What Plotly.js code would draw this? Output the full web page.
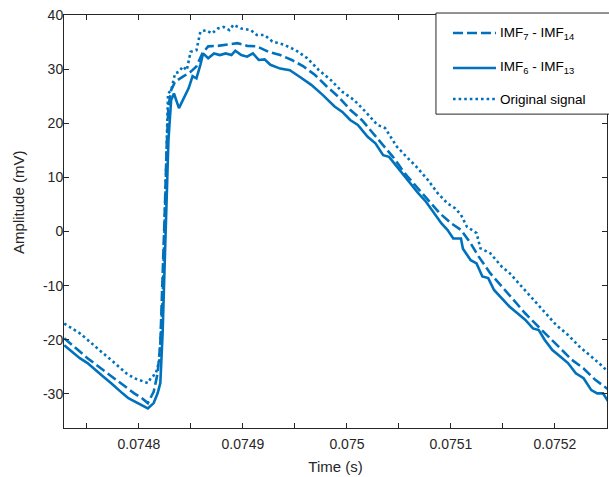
<!DOCTYPE html>
<html>
<head>
<meta charset="utf-8">
<script src="https://cdn.plot.ly/plotly-3.0.1.min.js"></script>
<style>html,body{margin:0;padding:0;background:#fff;}#chart{width:609px;height:477px;}</style>
</head>
<body>
<div id="chart"></div>
<script>
// ---- Data ----
const seriesNames = ["IMF<sub>7</sub> - IMF<sub>14</sub>", "IMF<sub>6</sub> - IMF<sub>13</sub>", "Original signal"];

const tDash = [0.0747282,0.0747357,0.0747432,0.0747506,0.0747581,0.0747656,0.0747731,0.0747806,0.0747880,0.0747955,0.0748030,0.0748086,0.0748142,0.0748180,0.0748206,0.0748228,0.0748247,0.0748266,0.0748284,0.0748310,0.0748348,0.0748423,0.0748497,0.0748553,0.0748610,0.0748666,0.0748759,0.0748871,0.0748946,0.0749040,0.0749133,0.0749245,0.0749358,0.0749470,0.0749582,0.0749694,0.0749806,0.0749918,0.0750031,0.0750143,0.0750255,0.0750348,0.0750442,0.0750554,0.0750666,0.0750779,0.0750891,0.0751003,0.0751096,0.0751190,0.0751265,0.0751377,0.0751489,0.0751601,0.0751713,0.0751826,0.0751938,0.0752050,0.0752162,0.0752275,0.0752387,0.0752521];
const vDash = [-19.7,-21.0,-22.2,-23.4,-24.5,-25.6,-26.7,-27.7,-28.8,-29.9,-30.8,-31.7,-29.6,-26.2,-20.7,-9.6,2.7,15.1,23.1,26.1,27.7,28.6,29.5,30.5,32.9,34.2,34.3,34.6,34.8,34.3,34.2,33.2,32.6,31.7,30.5,28.9,26.8,24.9,22.5,20.6,18.1,16.0,13.8,10.8,8.3,5.8,3.4,1.5,0.3,-2.2,-4.6,-7.7,-10.2,-12.6,-15.1,-17.3,-19.4,-21.6,-23.7,-25.3,-27.4,-29.3];

const tSolid = [0.0747282,0.0747357,0.0747432,0.0747506,0.0747581,0.0747656,0.0747731,0.0747787,0.0747843,0.0747899,0.0747955,0.0748011,0.0748086,0.0748142,0.0748180,0.0748206,0.0748228,0.0748247,0.0748266,0.0748284,0.0748310,0.0748337,0.0748385,0.0748441,0.0748479,0.0748516,0.0748553,0.0748591,0.0748617,0.0748666,0.0748722,0.0748778,0.0748834,0.0748890,0.0748927,0.0748984,0.0749040,0.0749096,0.0749152,0.0749208,0.0749264,0.0749358,0.0749451,0.0749545,0.0749657,0.0749769,0.0749881,0.0749956,0.0750031,0.0750105,0.0750199,0.0750274,0.0750348,0.0750405,0.0750479,0.0750554,0.0750610,0.0750685,0.0750760,0.0750835,0.0750909,0.0750966,0.0751022,0.0751096,0.0751115,0.0751190,0.0751246,0.0751302,0.0751358,0.0751414,0.0751489,0.0751564,0.0751639,0.0751713,0.0751788,0.0751844,0.0751900,0.0751975,0.0752050,0.0752125,0.0752200,0.0752275,0.0752349,0.0752406,0.0752462,0.0752521];
const vSolid = [-21.0,-22.2,-23.4,-24.3,-25.6,-26.8,-28.0,-29.0,-29.9,-30.8,-31.4,-32.0,-32.7,-31.7,-29.9,-28.0,-18.8,-6.5,5.8,16.9,24.3,25.5,22.8,25.2,26.5,28.7,28.3,30.8,32.9,32.0,32.9,32.6,32.9,32.6,33.4,32.6,32.3,32.9,31.7,31.8,30.8,30.1,29.8,28.6,27.1,25.2,23.1,22.1,20.6,19.7,17.5,16.3,14.1,13.8,12.0,10.4,8.9,7.1,5.5,3.4,1.5,0.3,-1.3,-1.3,-3.2,-5.3,-5.9,-8.3,-8.6,-10.8,-12.3,-13.9,-15.1,-16.3,-17.9,-18.2,-20.0,-21.9,-23.1,-24.3,-26.2,-27.1,-29.3,-29.9,-29.9,-31.7];

const tOrig = [0.0747282,0.0747357,0.0747432,0.0747506,0.0747581,0.0747656,0.0747731,0.0747806,0.0747880,0.0747955,0.0748030,0.0748086,0.0748123,0.0748161,0.0748198,0.0748228,0.0748254,0.0748280,0.0748310,0.0748348,0.0748385,0.0748423,0.0748460,0.0748497,0.0748553,0.0748591,0.0748647,0.0748703,0.0748759,0.0748815,0.0748871,0.0748909,0.0748984,0.0749077,0.0749133,0.0749208,0.0749283,0.0749395,0.0749507,0.0749619,0.0749731,0.0749844,0.0749956,0.0750068,0.0750180,0.0750292,0.0750367,0.0750479,0.0750573,0.0750666,0.0750779,0.0750872,0.0750966,0.0751040,0.0751096,0.0751153,0.0751246,0.0751283,0.0751377,0.0751489,0.0751564,0.0751639,0.0751713,0.0751807,0.0751900,0.0752013,0.0752125,0.0752237,0.0752349,0.0752462,0.0752521];
const vOrig = [-17.0,-17.9,-18.8,-20.0,-21.3,-22.5,-23.7,-25.0,-26.2,-27.1,-27.7,-28.0,-26.8,-26.4,-23.7,-12.6,5.8,25.5,26.1,29.2,29.5,30.5,29.8,33.2,33.5,36.9,37.2,36.6,37.5,37.8,37.2,38.2,37.5,37.2,36.3,36.3,35.1,34.5,33.5,32.0,29.8,28.0,25.8,24.3,22.1,19.7,19.1,15.7,13.8,12.0,9.5,7.1,5.2,4.3,3.1,0.9,-0.3,-3.1,-4.0,-6.5,-7.7,-9.3,-10.8,-13.0,-14.8,-17.3,-19.1,-21.3,-23.1,-25.0,-26.2];

const xTickVals = [0.0748,0.0749,0.075,0.0751,0.0752];
const xTickText = ["0.0748","0.0749","0.075","0.0751","0.0752"];
const xMinorVals = [0.07475,0.07485,0.07495,0.07505,0.07515,0.07525];
const yTickVals = [-30,-20,-10,0,10,20,30,40];
const yTickText = ["-30","-20","-10","0","10","20","30","40"];

// ---- Styling ----
const BLUE = "#0072BD";
const AX = "#262626";
const FONT = "Liberation Sans, Arial, Helvetica, sans-serif";
const LW = 2.6;
const DASHES = ["10px,4px", "solid", "2.6px,3px"];

const traces = [0, 1, 2].map(i => ({
  x: [tDash, tSolid, tOrig][i],
  y: [vDash, vSolid, vOrig][i],
  name: seriesNames[i], mode: "lines", showlegend: false,
  line: {color: BLUE, width: LW, dash: DASHES[i]}
}));

// Legend box (MATLAB-style) built from shapes + annotations, in paper coordinates
const legX0 = 0.685, legX1 = 1.03, legY0 = 0.760, legY1 = 1.0048;
const legLineX = [0.7164, 0.7956];
const legRowY = [0.9564, 0.8717, 0.7966];
const legTextX = 0.800;

const shapes = [
  {type: "rect", xref: "paper", yref: "paper", x0: legX0, x1: legX1, y0: legY0, y1: legY1,
   line: {color: AX, width: 1}, fillcolor: "#fff", layer: "above"}
];
const annotations = [
  {text: "Amplitude (mV)", xref: "paper", yref: "paper", x: -0.085, y: 0.547,
   xanchor: "center", yanchor: "middle", textangle: -90, showarrow: false,
   font: {family: FONT, size: 15, color: AX}}
];
for (let i = 0; i < 3; i++) {
  shapes.push({type: "line", xref: "paper", yref: "paper",
    x0: legLineX[0], x1: legLineX[1], y0: legRowY[i], y1: legRowY[i],
    line: {color: BLUE, width: LW, dash: DASHES[i]}, layer: "above"});
  annotations.push({text: seriesNames[i], xref: "paper", yref: "paper",
    x: legTextX, y: legRowY[i], xanchor: "left", yanchor: "middle", showarrow: false,
    font: {family: FONT, size: 13.5, color: "#000"}});
}

const layout = {
  width: 609, height: 477,
  margin: {l: 64, r: 2, t: 15, b: 49},
  paper_bgcolor: "#fff", plot_bgcolor: "#fff",
  font: {family: FONT, size: 14, color: AX},
  showlegend: false,
  xaxis: {
    range: [0.074728, 0.07525],
    tickmode: "array", tickvals: xTickVals, ticktext: xTickText,
    ticks: "inside", ticklen: 5, tickcolor: AX, tickwidth: 1,
    minor: {tickmode: "array", tickvals: xMinorVals, ticks: "inside", ticklen: 5, tickcolor: AX, tickwidth: 1, showgrid: false},
    showline: true, linecolor: AX, linewidth: 1, mirror: "ticks",
    showgrid: false, zeroline: false,
    ticklabelstandoff: 3,
    tickfont: {family: FONT, size: 14, color: AX},
    title: {text: "Time (s)", font: {family: FONT, size: 15, color: AX}, standoff: 10}
  },
  yaxis: {
    range: [-36.3, 40],
    tickmode: "array", tickvals: yTickVals, ticktext: yTickText,
    ticks: "inside", ticklen: 5, tickcolor: AX, tickwidth: 1,
    showline: true, linecolor: AX, linewidth: 1, mirror: "ticks",
    showgrid: false, zeroline: false,
    ticklabelstandoff: -3,
    tickfont: {family: FONT, size: 14, color: AX}
  },
  shapes: shapes,
  annotations: annotations
};

Plotly.newPlot("chart", traces, layout, {displayModeBar: false, staticPlot: true});
</script>
</body>
</html>
